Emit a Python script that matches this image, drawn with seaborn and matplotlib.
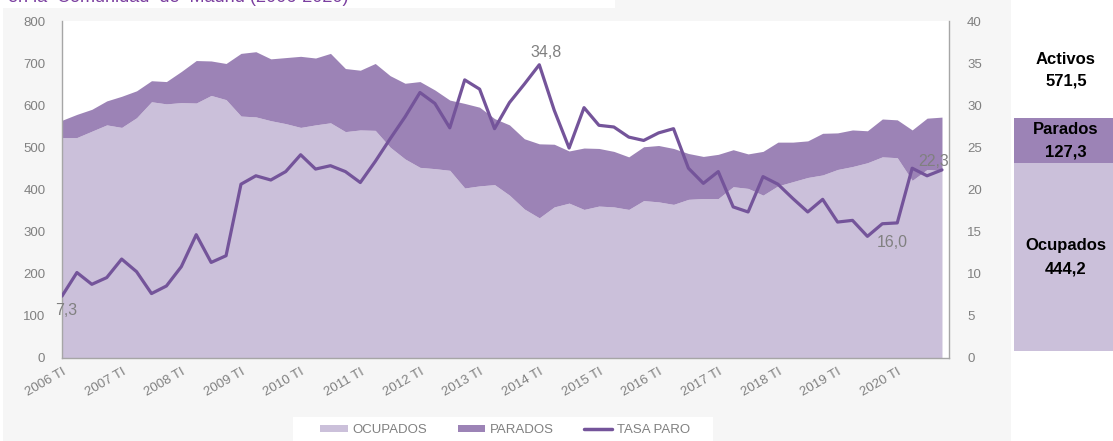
import matplotlib
matplotlib.use("Agg")
import matplotlib.pyplot as plt
from matplotlib.patches import Rectangle, Patch
from matplotlib.lines import Line2D
import numpy as np
import pandas as pd
import seaborn as sns

# ─── Datos (miles de personas / %) ────────────────────────────────────────────

years = list(range(2006, 2021))
quarters = ["TI", "TII", "TIII", "TIV"]
periodos = [f"{y} {q}" for y in years for q in quarters]

ocupados = [523, 523, 538, 553, 547, 570, 608, 603, 606, 605,
            623, 613, 574, 572, 563, 556, 547, 553, 558, 537,
            541, 540, 500, 472, 452, 449, 445, 403, 408, 411,
            386, 353, 332, 358, 367, 352, 360, 358, 352, 373,
            370, 364, 376, 378, 378, 406, 402, 386, 408, 418,
            428, 434, 447, 454, 463, 477, 475, 421, 447, 444.2]

parados = [41, 55, 52, 57, 74, 64, 50, 53, 74, 101,
           82, 86, 149, 155, 147, 157, 169, 159, 165, 150,
           142, 159, 170, 180, 204, 187, 167, 201, 187, 157,
           167, 167, 176, 149, 124, 146, 137, 132, 125, 128,
           134, 133, 109, 100, 105, 88, 82, 104, 104, 94,
           87, 99, 87, 87, 76, 90, 90, 120, 122, 127.3]

tasa_paro = [7.3, 10.1, 8.7, 9.5, 11.7, 10.2, 7.6, 8.5, 10.8, 14.6,
             11.3, 12.1, 20.6, 21.6, 21.1, 22.1, 24.1, 22.4, 22.8, 22.1,
             20.8, 23.3, 26.0, 28.6, 31.5, 30.2, 27.3, 33.0, 31.9, 27.2,
             30.3, 32.5, 34.8, 29.4, 24.9, 29.7, 27.6, 27.4, 26.2, 25.8,
             26.7, 27.2, 22.5, 20.7, 22.1, 17.9, 17.3, 21.5, 20.6, 18.9,
             17.3, 18.8, 16.1, 16.3, 14.4, 15.9, 16.0, 22.5, 21.6, 22.3]

# puntos con etiqueta de dato
etiquetas = {"2006 TI": (4, -14), "2014 TI": (7, 12),
             "2020 TI": (-5, -20), "2020 TIV": (-8, 8)}

df = pd.DataFrame({"periodo": periodos, "ocupados": ocupados,
                   "parados": parados, "tasa": tasa_paro})
df["x"] = np.arange(len(df))

# ─── Estilo ───────────────────────────────────────────────────────────────────

C_OCU = "#CBC0DA"
C_PAR = "#9C83B6"
C_TASA = "#74549A"
C_GRIS = "#808080"
C_FONDO = "#F6F6F6"

sns.set_theme(style="white")
plt.rcParams["font.family"] = ["Liberation Sans", "DejaVu Sans"]

W, H = 1113, 441
fig = plt.figure(figsize=(W / 100, H / 100), dpi=100, facecolor="white")


def rect_px(x0, y0, x1, y1, color):
    """Rectángulo en coordenadas de píxel (origen arriba a la izquierda)."""
    r = Rectangle((x0 / W, 1 - y1 / H), (x1 - x0) / W, (y1 - y0) / H,
                  transform=fig.transFigure, facecolor=color,
                  edgecolor="none", zorder=-10)
    fig.patches.append(r)


# fondo gris del gráfico
rect_px(3, 8, 1011, 441, C_FONDO)
rect_px(615, 0, 1011, 8, C_FONDO)
# caja blanca de la leyenda
rect_px(293, 417, 713, 441, "white")
# panel derecho
rect_px(1014, 118, 1113, 163, C_PAR)
rect_px(1014, 163, 1113, 351, C_OCU)

# título (recortado por el borde superior)
fig.text(8 / W, 1 - 2.5 / H, "en la  Comunidad  de  Madrid (2006-2020)",
         color="#7B3FA0", fontsize=13, va="baseline", ha="left")

# ─── Ejes ─────────────────────────────────────────────────────────────────────

ax = fig.add_axes([62 / W, (H - 357.5) / H, (949 - 62) / W, (357.5 - 21) / H])
ax.set_facecolor("white")
ax.stackplot(df["x"], df["ocupados"], df["parados"],
             colors=[C_OCU, C_PAR], linewidth=0)
ax.set_xlim(0, len(df) - 1 + 0.47)
ax.set_ylim(0, 800)
ax.set_yticks(range(0, 801, 100))
ax.set_xticks(df["x"][::4])
ax.set_xticklabels(df["periodo"][::4], rotation=30, ha="right", va="top",
                   rotation_mode="anchor")
ax.tick_params(axis="both", length=0, colors=C_GRIS, labelsize=9.5)
ax.tick_params(axis="y", pad=12)
ax.tick_params(axis="x", pad=6)
for lbl in ax.get_xticklabels():
    lbl.set_x(lbl.get_position()[0])
ax.spines["top"].set_visible(False)
ax.spines["right"].set_visible(False)
for s in ("left", "bottom"):
    ax.spines[s].set_color("#A6A6A6")
    ax.spines[s].set_linewidth(1.0)

ax2 = ax.twinx()
sns.lineplot(data=df, x="x", y="tasa", ax=ax2, color=C_TASA,
             linewidth=2.3, legend=False)
ax2.set_ylim(0, 40)
ax2.set_yticks(range(0, 41, 5))
ax2.set_xlabel("")
ax2.set_ylabel("")
ax.set_xlabel("")
ax.set_ylabel("")
ax2.tick_params(axis="y", length=0, colors=C_GRIS, labelsize=9.5, pad=13)
for s in ("top", "left", "bottom"):
    ax2.spines[s].set_visible(False)
ax2.spines["right"].set_color("#A6A6A6")
ax2.spines["right"].set_linewidth(1.0)

for per, (dx, dy) in etiquetas.items():
    fila = df[df["periodo"] == per].iloc[0]
    ax2.annotate(f"{fila['tasa']:.1f}".replace(".", ","),
                 (fila["x"], fila["tasa"]), xytext=(dx, dy),
                 textcoords="offset pixels", ha="center", va="center",
                 color=C_GRIS, fontsize=11.5)

# ─── Leyenda ──────────────────────────────────────────────────────────────────

handles = [Patch(facecolor=C_OCU, edgecolor="none"),
           Patch(facecolor=C_PAR, edgecolor="none"),
           Line2D([0], [0], color=C_TASA, linewidth=2.5)]
fig.legend(handles, ["OCUPADOS", "PARADOS", "TASA PARO"], ncol=3,
           loc="center", bbox_to_anchor=(505 / W, 1 - 430 / H),
           frameon=False, fontsize=9.5, labelcolor=C_GRIS,
           handlelength=2.1, handleheight=0.5, handletextpad=0.35,
           columnspacing=2.3)

# ─── Panel de resumen ─────────────────────────────────────────────────────────

ult = df.iloc[-1]
activos = ult["ocupados"] + ult["parados"]
resumen = [("Activos", activos, 59, 81),
           ("Parados", ult["parados"], 129, 152),
           ("Ocupados", ult["ocupados"], 246, 269)]
for nombre, valor, y1, y2 in resumen:
    fig.text(1066 / W, 1 - y1 / H, nombre, ha="center", va="center",
             fontsize=12, fontweight="bold", color="black")
    fig.text(1066 / W, 1 - y2 / H, f"{valor:.1f}".replace(".", ","),
             ha="center", va="center", fontsize=12, fontweight="bold",
             color="black")

fig.savefig("out.png", dpi=100, facecolor="white")
